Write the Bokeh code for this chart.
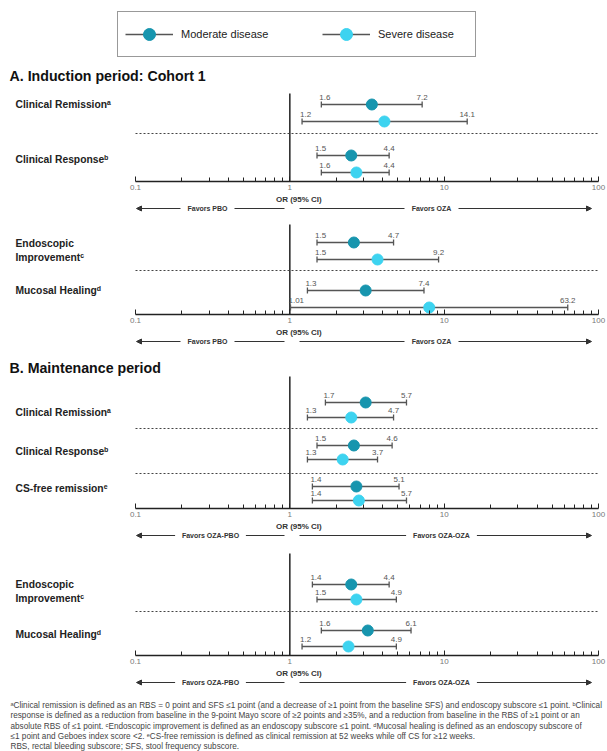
import math
from bokeh.plotting import figure
from bokeh.models import (ColumnDataSource, Range1d, LinearScale, LogAxis, FixedTicker,
                          CustomJSTickFormatter, Arrow, NormalHead, Legend, LegendItem)
from bokeh.core.properties import value
from bokeh.embed import file_html
from bokeh.resources import INLINE

# ---------------- data (odds ratios, 95% CI) ----------------
tick_values = [0.1, 1, 10, 100]

a1_outcomes = ["Clinical Remissionᵃ", "Clinical Responseᵇ"]
a1_mod_or = [3.4, 2.5]
a1_mod_lo = [1.6, 1.5]
a1_mod_hi = [7.2, 4.4]
a1_sev_or = [4.1, 2.7]
a1_sev_lo = [1.2, 1.6]
a1_sev_hi = [14.1, 4.4]

a2_outcomes = ["Endoscopic\nImprovementᶜ", "Mucosal Healingᵈ"]
a2_mod_or = [2.6, 3.1]
a2_mod_lo = [1.5, 1.3]
a2_mod_hi = [4.7, 7.4]
a2_sev_or = [3.7, 8.0]
a2_sev_lo = [1.5, 1.01]
a2_sev_hi = [9.2, 63.2]

b1_outcomes = ["Clinical Remissionᵃ", "Clinical Responseᵇ", "CS-free remissionᵉ"]
b1_mod_or = [3.1, 2.6, 2.7]
b1_mod_lo = [1.7, 1.5, 1.4]
b1_mod_hi = [5.7, 4.6, 5.1]
b1_sev_or = [2.5, 2.2, 2.8]
b1_sev_lo = [1.3, 1.3, 1.4]
b1_sev_hi = [4.7, 3.7, 5.7]

b2_outcomes = ["Endoscopic\nImprovementᶜ", "Mucosal Healingᵈ"]
b2_mod_or = [2.5, 3.2]
b2_mod_lo = [1.4, 1.6]
b2_mod_hi = [4.4, 6.1]
b2_sev_or = [2.7, 2.4]
b2_sev_lo = [1.5, 1.2]
b2_sev_hi = [4.9, 4.9]

series_names = ["Moderate disease", "Severe disease"]
favors_induction = ["Favors PBO", "Favors OZA"]
favors_maintenance = ["Favors OZA-PBO", "Favors OZA-OZA"]
section_titles = ["A. Induction period: Cohort 1", "B. Maintenance period"]
axis_title = "OR (95% CI)"

footnotes = [
    "ᵃClinical remission is defined as an RBS = 0 point and SFS ≤1 point (and a decrease of ≥1 point from the baseline SFS) and endoscopy subscore ≤1 point. ᵇClinical",
    "response is defined as a reduction from baseline in the 9-point Mayo score of ≥2 points and ≥35%, and a reduction from baseline in the RBS of ≥1 point or an",
    "absolute RBS of ≤1 point. ᶜEndoscopic improvement is defined as an endoscopy subscore ≤1 point. ᵈMucosal healing is defined as an endoscopy subscore of",
    "≤1 point and Geboes index score <2. ᵉCS-free remission is defined as clinical remission at 52 weeks while off CS for ≥12 weeks.",
    "RBS, rectal bleeding subscore; SFS, stool frequency subscore.",
]

# ---------------- layout (page pixels) ----------------
W, H = 607, 751
X_01, X_100 = 135, 598          # page x of OR = 0.1 and OR = 100
PX_DEC = (X_100 - X_01) / 3.0
FONT = value("Liberation Sans")
MOD_COLOR = "#1795AE"
SEV_COLOR = "#3DD3F0"
WHISKER = "#555555"

panels = [
    dict(outcomes=a1_outcomes, mod=(a1_mod_or, a1_mod_lo, a1_mod_hi), sev=(a1_sev_or, a1_sev_lo, a1_sev_hi),
         favors=favors_induction, top=93, rows=[(104, 121), (155, 172)], label_y=[104, 159],
         seps=[133], axis=181, fav_c=(207, 431)),
    dict(outcomes=a2_outcomes, mod=(a2_mod_or, a2_mod_lo, a2_mod_hi), sev=(a2_sev_or, a2_sev_lo, a2_sev_hi),
         favors=favors_induction, top=224, rows=[(242, 259), (290, 307)], label_y=[250, 290],
         seps=[270], axis=314, fav_c=(207, 431)),
    dict(outcomes=b1_outcomes, mod=(b1_mod_or, b1_mod_lo, b1_mod_hi), sev=(b1_sev_or, b1_sev_lo, b1_sev_hi),
         favors=favors_maintenance, top=376, rows=[(402, 417), (445, 459), (486, 500)], label_y=[412, 451, 488],
         seps=[428, 473], axis=508, fav_c=(210, 441)),
    dict(outcomes=b2_outcomes, mod=(b2_mod_or, b2_mod_lo, b2_mod_hi), sev=(b2_sev_or, b2_sev_lo, b2_sev_hi),
         favors=favors_maintenance, top=553, rows=[(584, 599), (630, 646)], label_y=[591, 634],
         seps=[611], axis=655, fav_c=(210, 441)),
]


def px_to_or(px):
    return 10 ** (-1 + (px - X_01) / PX_DEC)


x_start = px_to_or(0)
x_end = px_to_or(W)

p = figure(width=W, height=H, x_axis_type="log", x_range=Range1d(x_start, x_end),
           y_range=Range1d(H, 0), output_backend="svg", toolbar_location=None,
           min_border=0, x_axis_location=None, y_axis_location=None, title=None)
p.extra_x_ranges = {"px": Range1d(0, W)}
p.extra_x_scales = {"px": LinearScale()}
p.grid.visible = False
p.outline_line_color = None
p.background_fill_color = "white"
p.border_fill_color = "white"

# ---------------- build sources ----------------
def build(group):
    d = dict(orv=[], lo=[], hi=[], y=[], ytop=[], ybot=[], ylab=[], lo_txt=[], hi_txt=[])
    for pan in panels:
        orv, lo, hi = pan[group]
        for i in range(len(orv)):
            y = pan["rows"][i][0 if group == "mod" else 1]
            d["orv"].append(orv[i]); d["lo"].append(lo[i]); d["hi"].append(hi[i])
            d["y"].append(y); d["ytop"].append(y - 3); d["ybot"].append(y + 3)
            d["ylab"].append(y - 7)
            d["lo_txt"].append(str(lo[i])); d["hi_txt"].append(str(hi[i]))
    return ColumnDataSource(d)


# reference lines at OR = 1 and dotted separators
p.segment(x0=[1] * len(panels), x1=[1] * len(panels), y0=[pan["top"] for pan in panels],
          y1=[pan["axis"] for pan in panels], line_color="#222222", line_width=1.5)
sep_y = [s for pan in panels for s in pan["seps"]]
p.segment(x0=[tick_values[0]] * len(sep_y), x1=[tick_values[-1]] * len(sep_y), y0=sep_y, y1=sep_y,
          line_color="#444444", line_width=1, line_dash="2 2")


def draw_group(src, color):
    bar = p.segment(x0="lo", x1="hi", y0="y", y1="y", source=src, line_color=WHISKER, line_width=1.3)
    p.segment(x0="lo", x1="lo", y0="ytop", y1="ybot", source=src, line_color=WHISKER, line_width=1.3)
    p.segment(x0="hi", x1="hi", y0="ytop", y1="ybot", source=src, line_color=WHISKER, line_width=1.3)
    p.text(x="lo", y="ylab", text="lo_txt", source=src, text_font=FONT, text_font_size="8px",
           text_color="#555555", text_align="left", text_baseline="middle", x_offset=-2)
    p.text(x="hi", y="ylab", text="hi_txt", source=src, text_font=FONT, text_font_size="8px",
           text_color="#555555", text_align="center", text_baseline="middle")
    dot = p.scatter(x="orv", y="y", source=src, size=11, fill_color=color, line_color=color)
    return bar, dot


mod_bar, mod_dot = draw_group(build("mod"), MOD_COLOR)
sev_bar, sev_dot = draw_group(build("sev"), SEV_COLOR)

# ---------------- axes ----------------
minor = [m * 10.0 ** e for e in (-1, 0, 1) for m in range(2, 10)]
for pan in panels:
    ax = LogAxis(fixed_location=pan["axis"], bounds=(tick_values[0], tick_values[-1]),
                 ticker=FixedTicker(ticks=tick_values, minor_ticks=minor),
                 formatter=CustomJSTickFormatter(code="return String(tick)"),
                 axis_line_color="#222222", axis_line_width=1.5,
                 major_tick_line_color="#222222", minor_tick_line_color="#222222",
                 major_tick_in=5, major_tick_out=0, minor_tick_in=4, minor_tick_out=0,
                 major_label_text_font="Liberation Sans", major_label_text_font_size="8px",
                 major_label_text_color="#777777", major_label_standoff=3)
    p.add_layout(ax, "below")

# axis titles
p.text(x=[1] * len(panels), y=[pan["axis"] + 18 for pan in panels], text=[axis_title] * len(panels),
       text_font=FONT, text_font_size="8px", text_font_style="bold", text_color="#333333",
       text_align="center", text_baseline="middle", x_offset=9)

# favors arrows
fav_x, fav_y, fav_t = [], [], []
for pan in panels:
    ya = pan["axis"] + 27
    cl, cr = pan["fav_c"]
    tl, tr = pan["favors"]
    hl = len(tl) * 4.2 / 2 + 6
    hr = len(tr) * 4.2 / 2 + 6
    left_tip, left_in, right_in, right_tip = X_01 + 1, 284, 299, 591
    p.add_layout(Arrow(x_start=cl - hl, y_start=ya, x_end=left_tip, y_end=ya, x_range_name="px",
                       line_color="#333333", line_width=1,
                       end=NormalHead(size=5, fill_color="#333333", line_color="#333333")))
    p.add_layout(Arrow(x_start=cr + hr, y_start=ya, x_end=right_tip, y_end=ya, x_range_name="px",
                       line_color="#333333", line_width=1,
                       end=NormalHead(size=5, fill_color="#333333", line_color="#333333")))
    p.segment(x0=[cl + hl, right_in], x1=[left_in, cr - hr], y0=[ya, ya], y1=[ya, ya],
              x_range_name="px", line_color="#333333", line_width=1)
    fav_x += [cl, cr]; fav_y += [ya, ya]; fav_t += [tl, tr]
p.text(x=fav_x, y=fav_y, text=fav_t, x_range_name="px", text_font=FONT, text_font_size="7px",
       text_font_style="bold", text_color="#333333", text_align="center", text_baseline="middle")

# outcome labels
lab_x, lab_y, lab_t = [], [], []
for pan in panels:
    for t, y in zip(pan["outcomes"], pan["label_y"]):
        lab_x.append(15); lab_y.append(y); lab_t.append(t)
p.text(x=lab_x, y=lab_y, text=lab_t, x_range_name="px", text_font=FONT, text_font_size="10.3px",
       text_font_style="bold", text_color="#222222", text_align="left", text_baseline="middle",
       text_line_height=1.25)

# section titles
p.text(x=[9, 9], y=[75, 367], text=section_titles, x_range_name="px", text_font=FONT,
       text_font_size="14.2px", text_font_style="bold", text_color="#111111",
       text_align="left", text_baseline="middle")

# footnotes
p.text(x=[10] * len(footnotes), y=[705 + 10.3 * i for i in range(len(footnotes))], text=footnotes,
       x_range_name="px", text_font=FONT, text_font_size="8.2px", text_color="#444444",
       text_align="left", text_baseline="middle")

# legend
legend = Legend(items=[LegendItem(label=series_names[0], renderers=[mod_bar, mod_dot]),
                       LegendItem(label=series_names[1], renderers=[sev_bar, sev_dot])],
                orientation="horizontal", location=(117, H - 57), glyph_width=48, glyph_height=30,
                label_height=30, label_width=90, label_standoff=8, spacing=51, padding=7, margin=0,
                border_line_color="#333333", border_line_width=1.5,
                label_text_font="Liberation Sans", label_text_font_size="11px", label_text_color="#222222")
p.add_layout(legend)

open("out.html", "w").write(file_html(p, INLINE))
